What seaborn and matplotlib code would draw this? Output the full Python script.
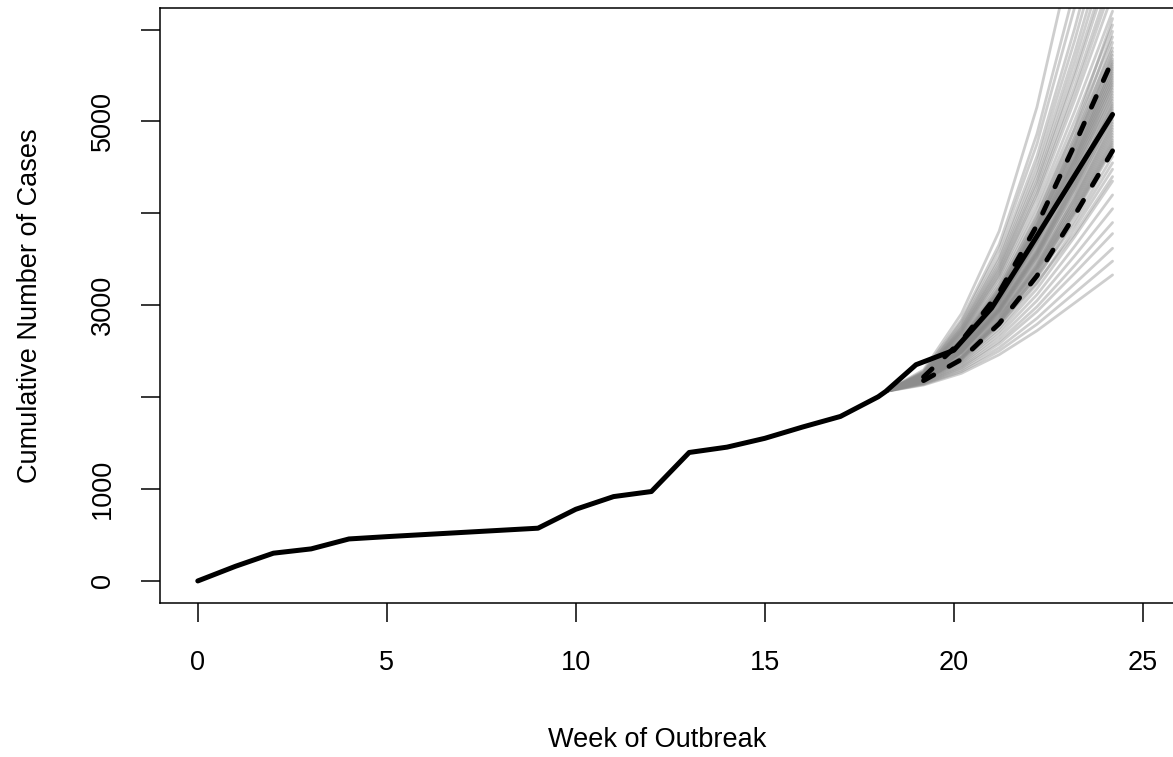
import numpy as np
import pandas as pd
import matplotlib
matplotlib.use("Agg")
import matplotlib.pyplot as plt
import seaborn as sns

# ---------------- data ----------------
obs_week = [0, 1, 2, 3, 4, 5, 6, 7, 8, 9, 10, 11, 12, 13, 14, 15, 16, 17, 18,
            18.2, 19, 20, 21, 22, 23, 24.2]
obs_cases = [0, 160, 302, 349, 457, 482, 505, 528, 551, 574, 780, 918, 973,
             1398, 1456, 1552, 1675, 1790, 2004, 2062, 2353, 2510, 2970,
             3620, 4280, 5076]

proj_weeks = [18.2, 19.2, 20.2, 21.2, 22.2, 23.2, 24.2]
proj_start = 2062
# simulated cumulative cases at weeks 19.2 ... 24.2 (one row per simulation)
sim_cases = [
    [2132, 2259, 2462, 2723, 3026, 3330],
    [2139, 2278, 2503, 2793, 3134, 3480],
    [2145, 2295, 2539, 2858, 3235, 3620],
    [2151, 2314, 2580, 2931, 3349, 3780],
    [2156, 2327, 2610, 2984, 3434, 3900],
    [2162, 2344, 2647, 3050, 3539, 4050],
    [2167, 2360, 2683, 3115, 3643, 4200],
    [2173, 2376, 2718, 3179, 3747, 4350],
    [2177, 2390, 2748, 3234, 3836, 4480],
    [2182, 2404, 2779, 3292, 3932, 4620],
    [2184, 2411, 2797, 3325, 3986, 4700],
    [2186, 2416, 2808, 3346, 4020, 4750],
    [2188, 2421, 2819, 3366, 4054, 4800],
    [2190, 2427, 2832, 3390, 4094, 4860],
    [2191, 2432, 2845, 3415, 4135, 4920],
    [2193, 2438, 2857, 3439, 4175, 4980],
    [2195, 2488, 2930, 3525, 4261, 5040],
    [2197, 2494, 2943, 3550, 4302, 5100],
    [2198, 2499, 2955, 3571, 4336, 5150],
    [2200, 2504, 2966, 3592, 4370, 5200],
    [2208, 2565, 3044, 3692, 4465, 5260],
    [2210, 2572, 3059, 3718, 4507, 5320],
    [2212, 2578, 3073, 3744, 4549, 5380],
    [2213, 2584, 3085, 3766, 4584, 5430],
    [2215, 2589, 3097, 3788, 4619, 5480],
    [2216, 2595, 3108, 3809, 4654, 5530],
    [2217, 2600, 3120, 3830, 4688, 5580],
    [2219, 2606, 3132, 3852, 4723, 5630],
    [2220, 2611, 3143, 3873, 4757, 5680],
    [2221, 2615, 3152, 3890, 4785, 5720],
    [2224, 2624, 3171, 3924, 4840, 5800],
    [2227, 2636, 3198, 3974, 4922, 5920],
    [2231, 2650, 3227, 4028, 5012, 6050],
    [2235, 2665, 3260, 4090, 5114, 6200],
    [2239, 2683, 3299, 4163, 5236, 6380],
    [2245, 2704, 3346, 4252, 5385, 6600],
    [2251, 2728, 3398, 4351, 5552, 6850],
    [2258, 2755, 3459, 4469, 5752, 7150],
    [2267, 2790, 3538, 4623, 6016, 7550],
    [2281, 2844, 3662, 4866, 6441, 8200],
    [2296, 2907, 3806, 5157, 6955, 9000],
    [2183, 2436, 2792, 3249, 3781, 4400],
    [2188, 2454, 2830, 3315, 3884, 4550],
    [2194, 2475, 2873, 3391, 4003, 4725],
    [2196, 2480, 2885, 3413, 4037, 4775],
    [2198, 2487, 2898, 3436, 4074, 4830],
    [2200, 2493, 2913, 3462, 4115, 4890],
    [2202, 2500, 2927, 3487, 4155, 4950],
    [2204, 2507, 2941, 3513, 4195, 5010],
    [2206, 2513, 2955, 3538, 4235, 5070],
    [2208, 2519, 2968, 3561, 4272, 5125],
    [2209, 2525, 2979, 3582, 4305, 5175],
    [2211, 2531, 2992, 3604, 4342, 5230],
    [2213, 2537, 3006, 3629, 4382, 5290],
    [2215, 2543, 3019, 3654, 4421, 5350],
    [2217, 2549, 3032, 3676, 4458, 5405],
    [2218, 2554, 3043, 3697, 4491, 5455],
    [2220, 2559, 3054, 3717, 4524, 5505],
    [2221, 2564, 3065, 3737, 4556, 5555],
    [2223, 2569, 3076, 3757, 4589, 5605],
    [2224, 2575, 3087, 3778, 4622, 5655],
    [2227, 2585, 3110, 3819, 4690, 5760],
    [2230, 2595, 3131, 3859, 4755, 5860],
    [2233, 2606, 3157, 3906, 4833, 5980],
    [2237, 2620, 3186, 3961, 4924, 6120],
    [2242, 2694, 3325, 4212, 5317, 6500],
    [2248, 2718, 3377, 4312, 5485, 6750],
    [2254, 2741, 3429, 4410, 5652, 7000],
    [2262, 2773, 3499, 4546, 5885, 7350],
    [2274, 2820, 3606, 4755, 6246, 7900],
]

q_weeks = [19.2, 20.2, 21.2, 22.2, 23.2, 24.2]
q_lower = [2180, 2410, 2800, 3320, 3980, 4680]
q_upper = [2220, 2610, 3140, 3870, 4750, 5670]

x_ticks = [0, 5, 10, 15, 20, 25]
y_ticks = [0, 1000, 2000, 3000, 4000, 5000, 6000]
y_tick_labels = ["0", "1000", "", "3000", "", "5000", ""]

# ---------------- build tables ----------------
rows = []
for i, vals in enumerate(sim_cases):
    series = [proj_start] + list(vals)
    for w, c in zip(proj_weeks, series):
        rows.append({"sim": i, "week": w, "cases": c})
sim_df = pd.DataFrame(rows)
obs_df = pd.DataFrame({"week": obs_week, "cases": obs_cases})
q_df = pd.DataFrame({"week": q_weeks, "lower": q_lower, "upper": q_upper})

# ---------------- plot ----------------
sns.set_theme(style="white")
plt.rcParams["font.family"] = ["Liberation Sans", "DejaVu Sans"]
plt.rcParams["text.color"] = "black"
plt.rcParams["axes.labelcolor"] = "black"

W, H = 1173, 757
fig = plt.figure(figsize=(W / 100, H / 100), dpi=100)
ax = fig.add_axes([160 / W, 154 / H, 1020.6 / W, 595.5 / H])

sns.lineplot(data=sim_df, x="week", y="cases", units="sim", estimator=None,
             color="#8c8c8c", alpha=0.42, linewidth=2.0, ax=ax, legend=False)

dash = (0, (2.4, 3.6))
for col in ["lower", "upper"]:
    sns.lineplot(data=q_df, x="week", y=col, color="black", linewidth=3.5,
                 linestyle=dash, dash_capstyle="round", errorbar=None, ax=ax)

sns.lineplot(data=obs_df, x="week", y="cases", color="black", linewidth=3.6,
             solid_capstyle="round", solid_joinstyle="round",
             errorbar=None, ax=ax)

ax.set_xlim(-1, 26)
ax.set_ylim(-240, 6240)
ax.set_xticks(x_ticks)
ax.set_xticklabels([str(t) for t in x_ticks])
ax.set_yticks(y_ticks)
ax.set_yticklabels(y_tick_labels, rotation=90, va="center")

ax.tick_params(axis="both", direction="out", length=14, width=1.1,
               colors="black", labelsize=19.5, bottom=True, left=True)
ax.tick_params(axis="x", pad=20)
ax.tick_params(axis="y", pad=17.7)

for s in ax.spines.values():
    s.set_visible(True)
    s.set_color("black")
    s.set_linewidth(1.1)

ax.set_xlabel("Week of Outbreak", fontsize=19.5, color="black")
ax.set_ylabel("Cumulative Number of Cases", fontsize=19.5, color="black")
ax.xaxis.label.set_va("center")
ax.yaxis.label.set_va("center")
ax.xaxis.set_label_coords(0.487, (603 - 740) / 595.5)
ax.yaxis.set_label_coords((30 - 160) / 1020.6, 0.5)
ax.grid(False)

fig.savefig("out.png", dpi=100, facecolor="white")
